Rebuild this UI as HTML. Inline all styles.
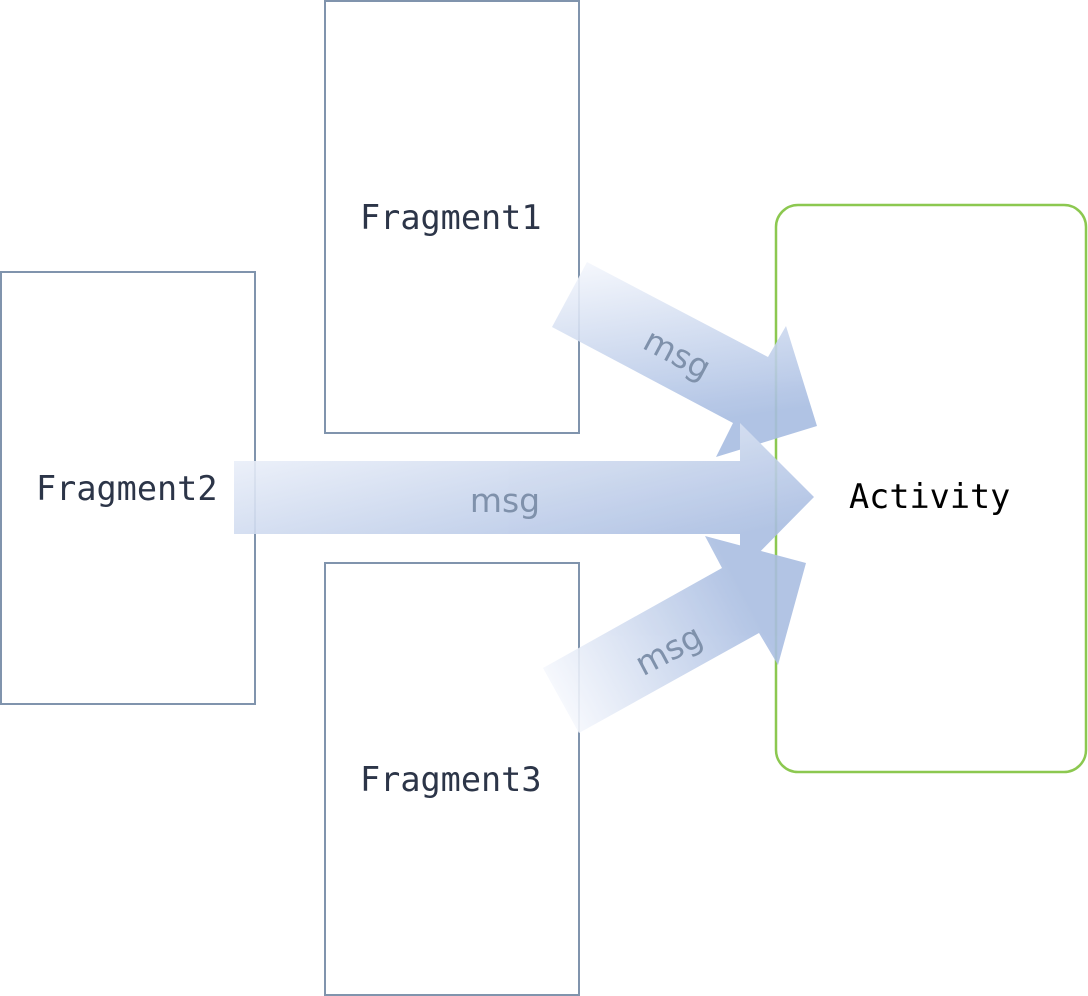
<!DOCTYPE html>
<html><head><meta charset="utf-8"><style>
html,body{margin:0;padding:0;background:#fff;}
svg{display:block;}
.f{font-family:"DejaVu Sans Mono","Liberation Mono",monospace;font-size:33.5px;fill:#2c3548;}
.m{font-family:"DejaVu Sans","Liberation Sans",sans-serif;font-size:33px;fill:#7f91ab;}
</style></head><body>
<svg width="1088" height="996" viewBox="0 0 1088 996" xmlns="http://www.w3.org/2000/svg">
<defs>
<linearGradient id="g1" x1="0" y1="0" x2="0.2" y2="1"><stop offset="0" stop-color="#f6f8fd"/><stop offset="0.9" stop-color="#a8bde2"/></linearGradient>
<linearGradient id="g2" x1="0" y1="0" x2="0.9" y2="1"><stop offset="0" stop-color="#f6f8fd"/><stop offset="0.85" stop-color="#aabee2"/></linearGradient>
<linearGradient id="g3" x1="0" y1="0.7" x2="1" y2="0.3"><stop offset="0" stop-color="#f6f8fd"/><stop offset="0.8" stop-color="#aabee2"/></linearGradient>
</defs>
<rect x="325" y="1" width="254" height="432" fill="none" stroke="#8094ad" stroke-width="2"/>
<rect x="1" y="272" width="254" height="432" fill="none" stroke="#8094ad" stroke-width="2"/>
<rect x="325" y="563" width="254" height="432" fill="none" stroke="#8094ad" stroke-width="2"/>
<rect x="776" y="205" width="310" height="567" rx="22" fill="none" stroke="#8cc850" stroke-width="2.5"/>
<text class="f" x="360" y="229">Fragment1</text>
<text class="f" x="36" y="500">Fragment2</text>
<text class="f" x="360" y="791">Fragment3</text>
<text class="f" x="849" y="508" style="fill:#000">Activity</text>
<g opacity="0.9">
<polygon fill="url(#g1)" points="587,262 768,357 786,326 817,426 716,457 733,423 552,327"/>
<polygon fill="url(#g2)" points="234,461 740,461 740,423 814,497 740,572 740,534 234,534"/>
<polygon fill="url(#g3)" points="543,668 722,568 705,536 806,563 778,665 759,633 579,733"/>
</g>
<text class="m" transform="translate(672,364) rotate(28)" text-anchor="middle">msg</text>
<text class="m" x="505" y="512" text-anchor="middle">msg</text>
<text class="m" transform="translate(674,660) rotate(-28)" text-anchor="middle">msg</text>
</svg>
</body></html>
